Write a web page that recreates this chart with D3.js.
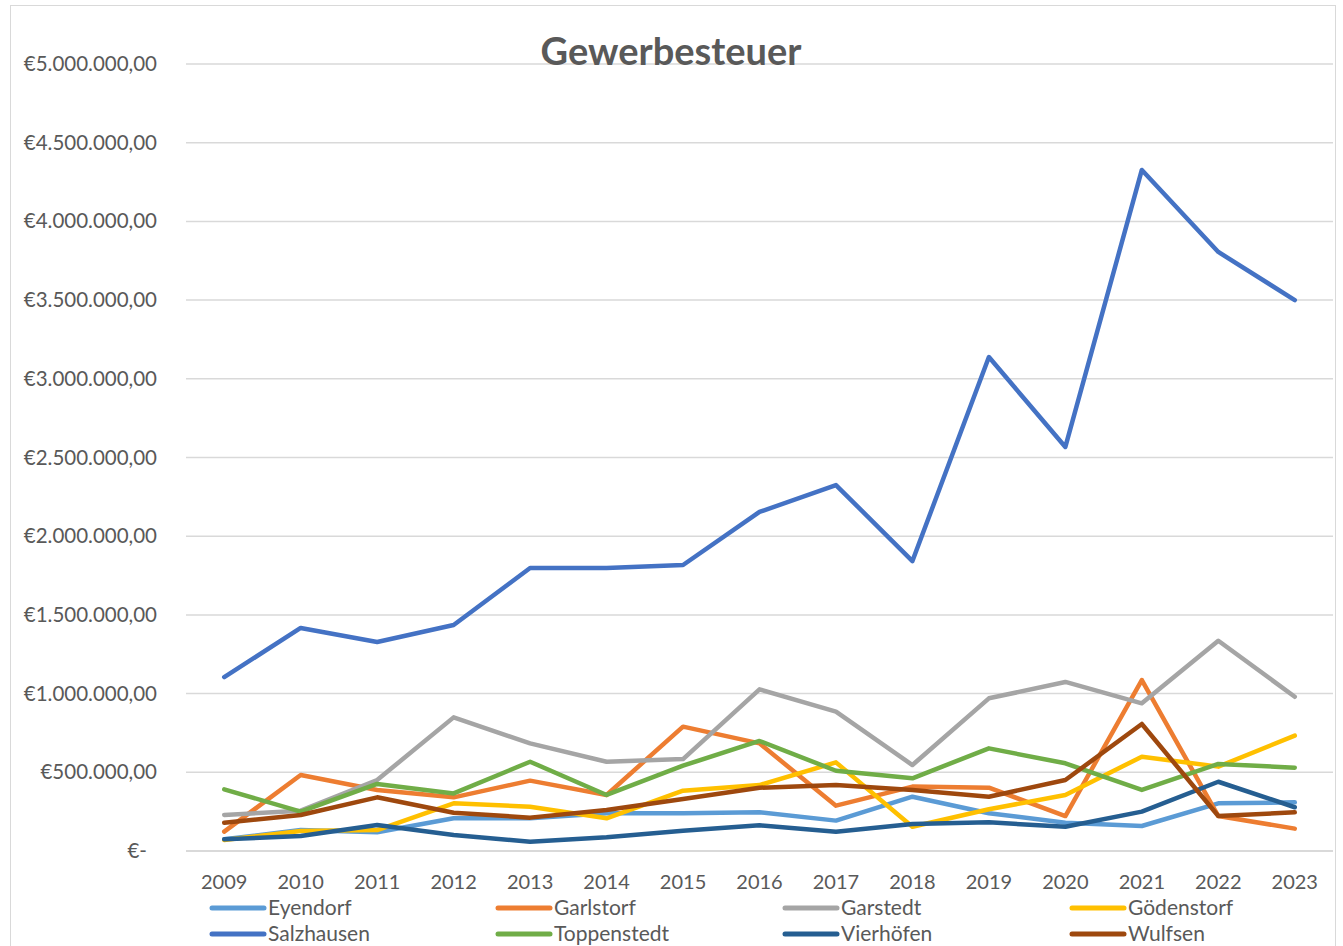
<!DOCTYPE html>
<html>
<head>
<meta charset="utf-8">
<script src="https://cdn.jsdelivr.net/npm/d3@7"></script>
<style>
  body { margin: 0; background: #fff; }
  svg { display: block; font-family: Lato, "Open Sans", sans-serif; }
</style>
</head>
<body>
<svg width="1343" height="946"></svg>
<script>
const years = [2009, 2010, 2011, 2012, 2013, 2014, 2015, 2016, 2017, 2018, 2019, 2020, 2021, 2022, 2023];

const eyendorf    = [74000, 133000, 119000, 208000, 208000, 240000, 240000, 246000, 193000, 345000, 240000, 180000, 159000, 303000, 309000];
const garlstorf   = [123000, 483000, 388000, 341000, 447000, 356000, 790000, 684000, 288000, 409000, 402000, 222000, 1086000, 222000, 142000];
const garstedt    = [229000, 256000, 451000, 849000, 684000, 567000, 584000, 1027000, 885000, 546000, 970000, 1074000, 938000, 1336000, 980000];
const goedenstorf = [70000, 127000, 133000, 303000, 281000, 208000, 383000, 419000, 563000, 154000, 265000, 356000, 599000, 536000, 733000];
const salzhausen  = [1105000, 1417000, 1328000, 1436000, 1798000, 1798000, 1817000, 2154000, 2325000, 1842000, 3138000, 2567000, 4327000, 3806000, 3500000];
const toppenstedt = [392000, 250000, 426000, 366000, 567000, 356000, 542000, 699000, 510000, 462000, 652000, 557000, 388000, 553000, 529000];
const vierhoefen  = [74000, 95000, 165000, 102000, 59000, 87000, 129000, 163000, 123000, 172000, 182000, 154000, 250000, 440000, 278000];
const wulfsen     = [180000, 229000, 341000, 243000, 212000, 260000, 330000, 402000, 419000, 388000, 345000, 451000, 807000, 222000, 246000];

const names  = ["Eyendorf", "Garlstorf", "Garstedt", "Gödenstorf", "Salzhausen", "Toppenstedt", "Vierhöfen", "Wulfsen"];
const colors = ["#5B9BD5", "#ED7D31", "#A5A5A5", "#FFC000", "#4472C4", "#70AD47", "#255E91", "#9E480E"];
const yTicks = [0, 500000, 1000000, 1500000, 2000000, 2500000, 3000000, 3500000, 4000000, 4500000, 5000000];

const series = names.map((n, i) => ({
    name: n,
    color: colors[i],
    values: [eyendorf, garlstorf, garstedt, goedenstorf, salzhausen, toppenstedt, vierhoefen, wulfsen][i]
}));

const svg = d3.select("svg");
const textColor = "#595959";

// chart border
svg.append("rect")
    .attr("x", 10.5).attr("y", 5.5)
    .attr("width", 1325).attr("height", 960)
    .attr("fill", "none").attr("stroke", "#d9d9d9");

const plotLeft = 186, plotRight = 1333, plotTop = 64, plotBottom = 851;

const x = d3.scalePoint().domain(years).range([plotLeft, plotRight]).padding(0.5);
const y = d3.scaleLinear().domain([0, 5000000]).range([plotBottom, plotTop]);

const fmt = d3.formatLocale({decimal: ",", thousands: ".", grouping: [3], currency: ["€", ""]}).format("$,.2f");

// gridlines
svg.append("g")
    .selectAll("line")
    .data(yTicks)
    .enter()
    .append("line")
    .attr("x1", plotLeft).attr("x2", plotRight)
    .attr("y1", d => y(d)).attr("y2", d => y(d))
    .attr("stroke", "#d9d9d9")
    .attr("stroke-width", (d) => d === 0 ? 2 : 1.5);

// y labels
svg.append("g")
    .selectAll("text")
    .data(yTicks)
    .enter()
    .append("text")
    .attr("x", d => d === 0 ? 147 : 157)
    .attr("y", d => y(d) + 7)
    .attr("text-anchor", "end")
    .attr("font-size", 20.5)
    .attr("fill", textColor)
    .text(d => d === 0 ? "€-" : fmt(d));

// x labels
svg.append("g")
    .selectAll("text")
    .data(years)
    .enter()
    .append("text")
    .attr("x", d => x(d))
    .attr("y", 889)
    .attr("text-anchor", "middle")
    .attr("font-size", 20)
    .attr("fill", textColor)
    .text(d => d);

// lines
const line = d3.line()
    .x((d, i) => x(years[i]))
    .y(d => y(d));

svg.append("g")
    .selectAll("path")
    .data(series)
    .enter()
    .append("path")
    .attr("d", d => line(d.values))
    .attr("fill", "none")
    .attr("stroke", d => d.color)
    .attr("stroke-width", 4.5)
    .attr("stroke-linejoin", "round")
    .attr("stroke-linecap", "round");

// title
svg.append("text")
    .attr("x", 671)
    .attr("y", 65)
    .attr("text-anchor", "middle")
    .attr("font-size", 38)
    .attr("font-weight", "bold")
    .attr("fill", textColor)
    .text("Gewerbesteuer");

// legend
const legendX = [212, 498, 785, 1072];
const legend = svg.append("g")
    .selectAll("g")
    .data(series)
    .enter()
    .append("g")
    .attr("transform", (d, i) => `translate(${legendX[i % 4]},${i < 4 ? 908 : 934})`);

legend.append("line")
    .attr("x1", 0).attr("x2", 52)
    .attr("stroke", d => d.color)
    .attr("stroke-width", 5)
    .attr("stroke-linecap", "round");

legend.append("text")
    .attr("x", 56)
    .attr("y", 7)
    .attr("font-size", 21)
    .attr("fill", textColor)
    .text(d => d.name);
</script>
</body>
</html>
